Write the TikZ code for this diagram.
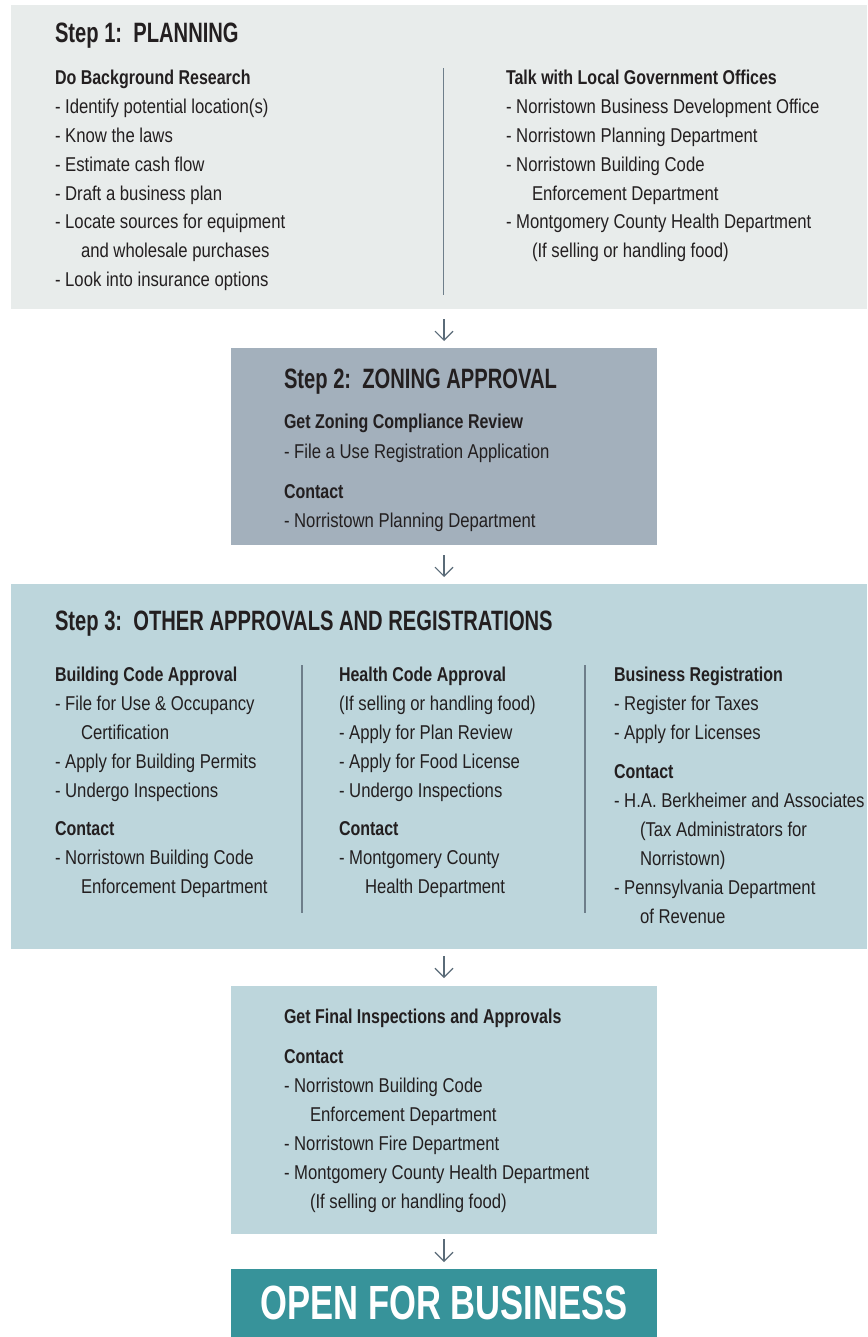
\documentclass[tikz,border=0pt]{standalone}
\usepackage{fontspec}
\setmainfont{Liberation Sans}[FakeStretch=0.835, BoldFont={Liberation Sans Bold}, BoldFeatures={FakeStretch=0.80}]
\newfontfamily\titlefont{Liberation Sans Bold}[FakeStretch=0.72]
\usetikzlibrary{arrows.meta}
\definecolor{ink}{HTML}{231F20}
\definecolor{bgone}{HTML}{E8ECEB}
\definecolor{bgtwo}{HTML}{A3B0BC}
\definecolor{bgthree}{HTML}{BDD6DC}
\definecolor{bgopen}{HTML}{37939A}
\definecolor{rule}{HTML}{6E7E8A}
\definecolor{arrowc}{HTML}{5A6B78}
\tikzset{
  panel/.style={anchor=north west, inner sep=0, outer sep=0, draw=none},
  txt/.style={anchor=base west, inner sep=0, outer sep=0, text=ink,
    font=\fontsize{20}{24}\selectfont},
  ttl/.style={anchor=base west, inner sep=0, outer sep=0, text=ink,
    font=\titlefont\fontsize{28}{30}\selectfont},
  divider/.style={draw=rule, line width=1.4pt},
  flow/.style={draw=arrowc, line width=1.1pt, -{Straight Barb[length=9pt,width=18pt,line width=1.1pt]}},
}
% \tx{name}{x}{baseline y}{text}
\newcommand\tx[4]{\node[txt] (#1) at (#2,#3) {#4};}
\newcommand\tk[4]{\node[txt] (#1) at (#2,#3) {\textbf{#4}};}
\newcommand\ind{\hspace*{26pt}}
\begin{document}
\begin{tikzpicture}[x=1pt,y=-1pt]
\useasboundingbox (0,0) rectangle (867,1337);
\fill[white] (0,0) rectangle (867,1337);
% panels
\node[panel, fill=bgone, minimum width=856pt, minimum height=304pt] (s1) at (11,5) {};
\node[panel, fill=bgtwo, minimum width=426pt, minimum height=197pt] (s2) at (231,348) {};
\node[panel, fill=bgthree, minimum width=856pt, minimum height=365pt] (s3) at (11,584) {};
\node[panel, fill=bgthree, minimum width=426pt, minimum height=248pt] (s4) at (231,986) {};
\node[panel, fill=bgopen, minimum width=426pt, minimum height=68pt] (s5) at (231,1269) {};
% dividers
\draw[divider] (443.5,68) -- (443.5,295);
\draw[divider] (302,665) -- (302,913);
\draw[divider] (585,665) -- (585,913);
% step 1
\node[ttl] (t1) at (55,43) {Step 1:\ \ PLANNING};
\tk{a0}{55}{85}{Do Background Research}
\tx{a1}{55}{113.8}{- Identify potential location(s)}
\tx{a2}{55}{142.6}{- Know the laws}
\tx{a3}{55}{171.4}{- Estimate cash flow}
\tx{a4}{55}{200.2}{- Draft a business plan}
\tx{a5}{55}{229}{- Locate sources for equipment}
\tx{a6}{55}{257.8}{\ind and wholesale purchases}
\tx{a7}{55}{286.6}{- Look into insurance options}
\tk{b0}{506}{85}{Talk with Local Government Offices}
\tx{b1}{506}{113.8}{- Norristown Business Development Office}
\tx{b2}{506}{142.6}{- Norristown Planning Department}
\tx{b3}{506}{171.4}{- Norristown Building Code}
\tx{b4}{506}{200.2}{\ind Enforcement Department}
\tx{b5}{506}{229}{- Montgomery County Health Department}
\tx{b6}{506}{257.8}{\ind (If selling or handling food)}
% step 2
\node[ttl] (t2) at (284,388) {Step 2:\ \ ZONING APPROVAL};
\tk{z0}{284}{428}{Get Zoning Compliance Review}
\tx{z1}{284}{458}{- File a Use Registration Application}
\tk{z2}{284}{498}{Contact}
\tx{z3}{284}{527}{- Norristown Planning Department}
% step 3
\node[ttl] (t3) at (55,630) {Step 3:\ \ OTHER APPROVALS AND REGISTRATIONS};
\tk{c0}{55}{681}{Building Code Approval}
\tx{c1}{55}{710}{- File for Use \& Occupancy}
\tx{c2}{55}{739}{\ind Certification}
\tx{c3}{55}{768}{- Apply for Building Permits}
\tx{c4}{55}{797}{- Undergo Inspections}
\tk{c5}{55}{835}{Contact}
\tx{c6}{55}{864}{- Norristown Building Code}
\tx{c7}{55}{893}{\ind Enforcement Department}
\tk{d0}{339}{681}{Health Code Approval}
\tx{d1}{339}{710}{(If selling or handling food)}
\tx{d2}{339}{739}{- Apply for Plan Review}
\tx{d3}{339}{768}{- Apply for Food License}
\tx{d4}{339}{797}{- Undergo Inspections}
\tk{d5}{339}{835}{Contact}
\tx{d6}{339}{864}{- Montgomery County}
\tx{d7}{339}{893}{\ind Health Department}
\tk{e0}{614}{681}{Business Registration}
\tx{e1}{614}{710}{- Register for Taxes}
\tx{e2}{614}{739}{- Apply for Licenses}
\tk{e3}{614}{778}{Contact}
\tx{e4}{614}{807}{- H.A. Berkheimer and Associates}
\tx{e5}{614}{836}{\ind (Tax Administrators for}
\tx{e6}{614}{865}{\ind Norristown)}
\tx{e7}{614}{894}{- Pennsylvania Department}
\tx{e8}{614}{923}{\ind of Revenue}
% final
\tk{f0}{284}{1023}{Get Final Inspections and Approvals}
\tk{f1}{284}{1063}{Contact}
\tx{f2}{284}{1092}{- Norristown Building Code}
\tx{f3}{284}{1121}{\ind Enforcement Department}
\tx{f4}{284}{1150}{- Norristown Fire Department}
\tx{f5}{284}{1179}{- Montgomery County Health Department}
\tx{f6}{284}{1208}{\ind (If selling or handling food)}
% open
\node[inner sep=0, text=white, font=\titlefont\fontsize{48}{50}\selectfont] (op) at (s5.center) {OPEN FOR BUSINESS};
% arrows
\draw[flow, shorten <=10pt, shorten >=7pt] (s1.south -| s2.north) -- (s2.north);
\draw[flow, shorten <=10pt, shorten >=7pt] (s2.south) -- (s2.south |- s3.north);
\draw[flow, shorten <=7pt, shorten >=8pt] (s3.south -| s4.north) -- (s4.north);
\draw[flow, shorten <=5pt, shorten >=7pt] (s4.south) -- (s5.north);
\end{tikzpicture}
\end{document}
